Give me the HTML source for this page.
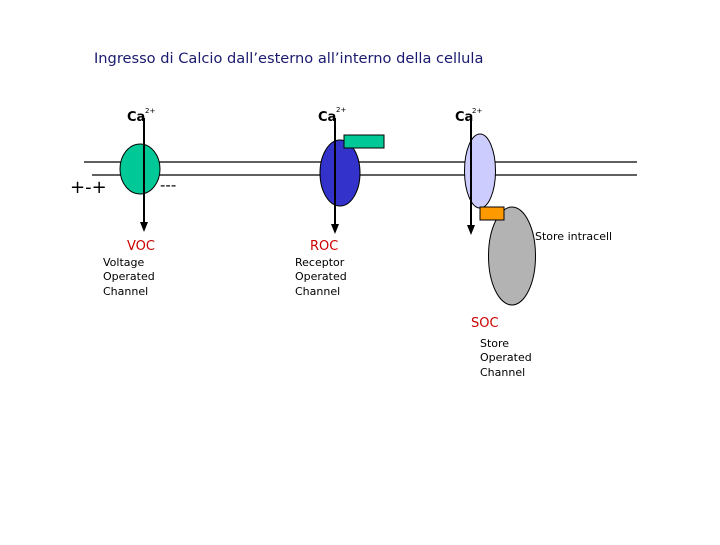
<!DOCTYPE html>
<html><head><style>
body{margin:0;background:#fff;}
svg text{font-family:"Comic Sans MS","DejaVu Sans",sans-serif;}
</style></head><body>
<svg width="720" height="540" viewBox="0 0 720 540" xmlns="http://www.w3.org/2000/svg">
<text x="94" y="63" font-size="14.6" fill="#1a1a70">Ingresso di Calcio dall’esterno all’interno della cellula</text>
<line x1="84" y1="162" x2="637" y2="162" stroke="#000" stroke-width="1.3"/>
<line x1="92" y1="175" x2="637" y2="175" stroke="#000" stroke-width="1.3"/>
<ellipse cx="140" cy="169" rx="20" ry="25" fill="#00c896" stroke="#000"/>
<ellipse cx="340" cy="173" rx="20" ry="33" fill="#3333cc" stroke="#000"/>
<rect x="344" y="135" width="40" height="13" fill="#00c896" stroke="#000"/>
<ellipse cx="480" cy="171" rx="15.5" ry="37" fill="#ccccff" stroke="#000"/>
<ellipse cx="512" cy="256" rx="23.5" ry="49" fill="#b3b3b3" stroke="#000"/>
<rect x="480" y="207" width="24" height="13" fill="#ff9900" stroke="#000"/>
<g stroke="#000" stroke-width="2">
<line x1="144" y1="118" x2="144" y2="224"/><line x1="335" y1="118" x2="335" y2="226"/><line x1="471" y1="118" x2="471" y2="227"/>
</g>
<g fill="#000"><path d="M140,222 L148,222 L144,232Z"/><path d="M331,224 L339,224 L335,234Z"/><path d="M467,225 L475,225 L471,235Z"/></g>
<g font-size="13" font-weight="bold"><text x="127" y="121">Ca</text><text x="318" y="121">Ca</text><text x="455" y="121">Ca</text></g>
<g font-size="7"><text x="145" y="113">2+</text><text x="336" y="112">2+</text><text x="472" y="113">2+</text></g>
<text x="70" y="193" font-size="18">+-+</text>
<text x="160" y="190" font-size="15">---</text>
<text x="535" y="240" font-size="11">Store intracell</text>
<g fill="#cc0000" font-size="13"><text x="127" y="250">VOC</text><text x="310" y="250">ROC</text><text x="471" y="327">SOC</text></g>
<g font-size="11">
<text x="103" y="266">Voltage</text><text x="103" y="280">Operated</text><text x="103" y="295">Channel</text>
<text x="295" y="266">Receptor</text><text x="295" y="280">Operated</text><text x="295" y="295">Channel</text>
<text x="480" y="347">Store</text><text x="480" y="361">Operated</text><text x="480" y="376">Channel</text>
</g>
</svg>
</body></html>
